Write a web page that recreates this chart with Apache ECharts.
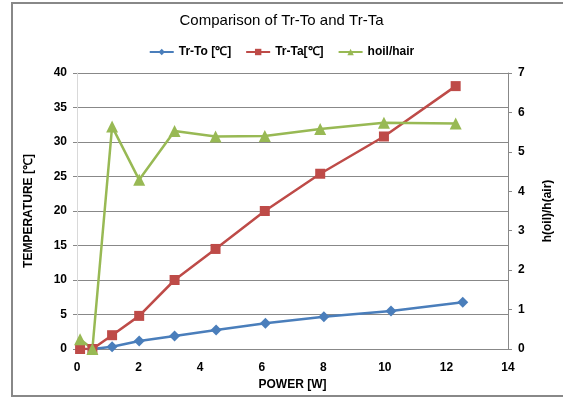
<!DOCTYPE html>
<html>
<head>
<meta charset="utf-8">
<script src="https://cdn.jsdelivr.net/npm/echarts@6/dist/echarts.min.js"></script>
<style>html,body{margin:0;padding:0;background:#fff}#c{width:563px;height:401px}</style>
</head>
<body>
<div id="c"></div>
<script>
const titleText = 'Comparison of Tr-To and Tr-Ta';
const seriesNames = ['Tr-To [℃]', 'Tr-Ta[℃]', 'hoil/hair'];
const toX = [0.5, 1.14, 2.02, 3.17, 4.52, 6.12, 8.02, 10.2, 12.53];
const toY = [0, 0.33, 1.16, 1.88, 2.75, 3.72, 4.68, 5.5, 6.77];
const taX = [0.1, 0.5, 1.14, 2.02, 3.17, 4.5, 6.1, 7.9, 9.97, 12.3];
const taY = [0, 0, 2.0, 4.8, 10.0, 14.5, 20.0, 25.4, 30.8, 38.1];
const hX = [0.1, 0.5, 1.14, 2.02, 3.17, 4.5, 6.1, 7.9, 9.97, 12.3];
const hY = [0.25, 0, 5.64, 4.29, 5.53, 5.39, 5.4, 5.58, 5.74, 5.72];
const xTicks = [0, 2, 4, 6, 8, 10, 12, 14];
const yLeftTicks = [0, 5, 10, 15, 20, 25, 30, 35, 40];
const yRightTicks = [0, 1, 2, 3, 4, 5, 6, 7];

const pairs = (xs, ys) => xs.map((x, i) => [x, ys[i]]);
const font = 'Arial, "Liberation Sans", sans-serif';
const chart = echarts.init(document.getElementById('c'), null, {renderer: 'canvas'});
chart.setOption({
  animation: false,
  backgroundColor: '#fff',
  title: {text: titleText, left: 'center', top: 8, textStyle: {fontFamily: font, fontSize: 15, fontWeight: 'normal', color: '#000'}},
  legend: {
    top: 41, left: 'center', itemWidth: 24, itemHeight: 8, itemGap: 14,
    textStyle: {fontFamily: font, fontSize: 12, fontWeight: 'bold', color: '#000'},
    data: seriesNames
  },
  graphic: [{type: 'rect', shape: {x: 12, y: 3, width: 600, height: 393}, style: {fill: 'none', stroke: '#888', lineWidth: 2}, silent: true}],
  grid: {left: 77, right: 55, top: 73, bottom: 52},
  xAxis: {
    type: 'value', min: xTicks[0], max: xTicks[xTicks.length - 1], interval: 2,
    name: 'POWER [W]', nameLocation: 'middle', nameGap: 25,
    nameTextStyle: {fontFamily: font, fontSize: 12, fontWeight: 'bold', color: '#000'},
    axisLine: {lineStyle: {color: '#888'}}, axisTick: {show: false},
    axisLabel: {fontFamily: font, fontSize: 12, fontWeight: 'bold', color: '#000', margin: 13},
    splitLine: {show: false}
  },
  yAxis: [{
    type: 'value', min: yLeftTicks[0], max: yLeftTicks[yLeftTicks.length - 1], interval: 5,
    name: 'TEMPERATURE [℃]', nameLocation: 'middle', nameGap: 42, nameRotate: 90,
    nameTextStyle: {fontFamily: font, fontSize: 12, fontWeight: 'bold', color: '#000'},
    axisLine: {show: true, lineStyle: {color: '#d9d9d9'}}, axisTick: {show: true, length: 4, lineStyle: {color: '#888'}},
    axisLabel: {fontFamily: font, fontSize: 12, fontWeight: 'bold', color: '#000', margin: 10},
    splitLine: {show: true, lineStyle: {color: '#888', width: 1}}
  }, {
    type: 'value', min: yRightTicks[0], max: yRightTicks[yRightTicks.length - 1], interval: 1,
    name: 'h(oil)/h(air)', nameLocation: 'middle', nameGap: 34, nameRotate: 90,
    nameTextStyle: {fontFamily: font, fontSize: 12, fontWeight: 'bold', color: '#000'},
    axisLine: {show: true, lineStyle: {color: '#888'}}, axisTick: {show: true, length: 4, lineStyle: {color: '#888'}},
    axisLabel: {fontFamily: font, fontSize: 12, fontWeight: 'bold', color: '#000', margin: 10},
    splitLine: {show: false}
  }],
  series: [{
    name: seriesNames[0], type: 'line', yAxisIndex: 0, data: pairs(toX, toY),
    symbol: 'diamond', symbolSize: 11, color: '#4a7ebb',
    lineStyle: {width: 2.5, color: '#4a7ebb'}, itemStyle: {color: '#4a7ebb'}
  }, {
    name: seriesNames[1], type: 'line', yAxisIndex: 0, data: pairs(taX, taY),
    symbol: 'rect', symbolSize: 10, color: '#be4b48',
    lineStyle: {width: 2.5, color: '#be4b48'}, itemStyle: {color: '#be4b48'}
  }, {
    name: seriesNames[2], type: 'line', yAxisIndex: 1, data: pairs(hX, hY),
    symbol: 'triangle', symbolSize: 12, color: '#98b954',
    lineStyle: {width: 2.5, color: '#98b954'}, itemStyle: {color: '#98b954'}
  }]
});
</script>
</body>
</html>
